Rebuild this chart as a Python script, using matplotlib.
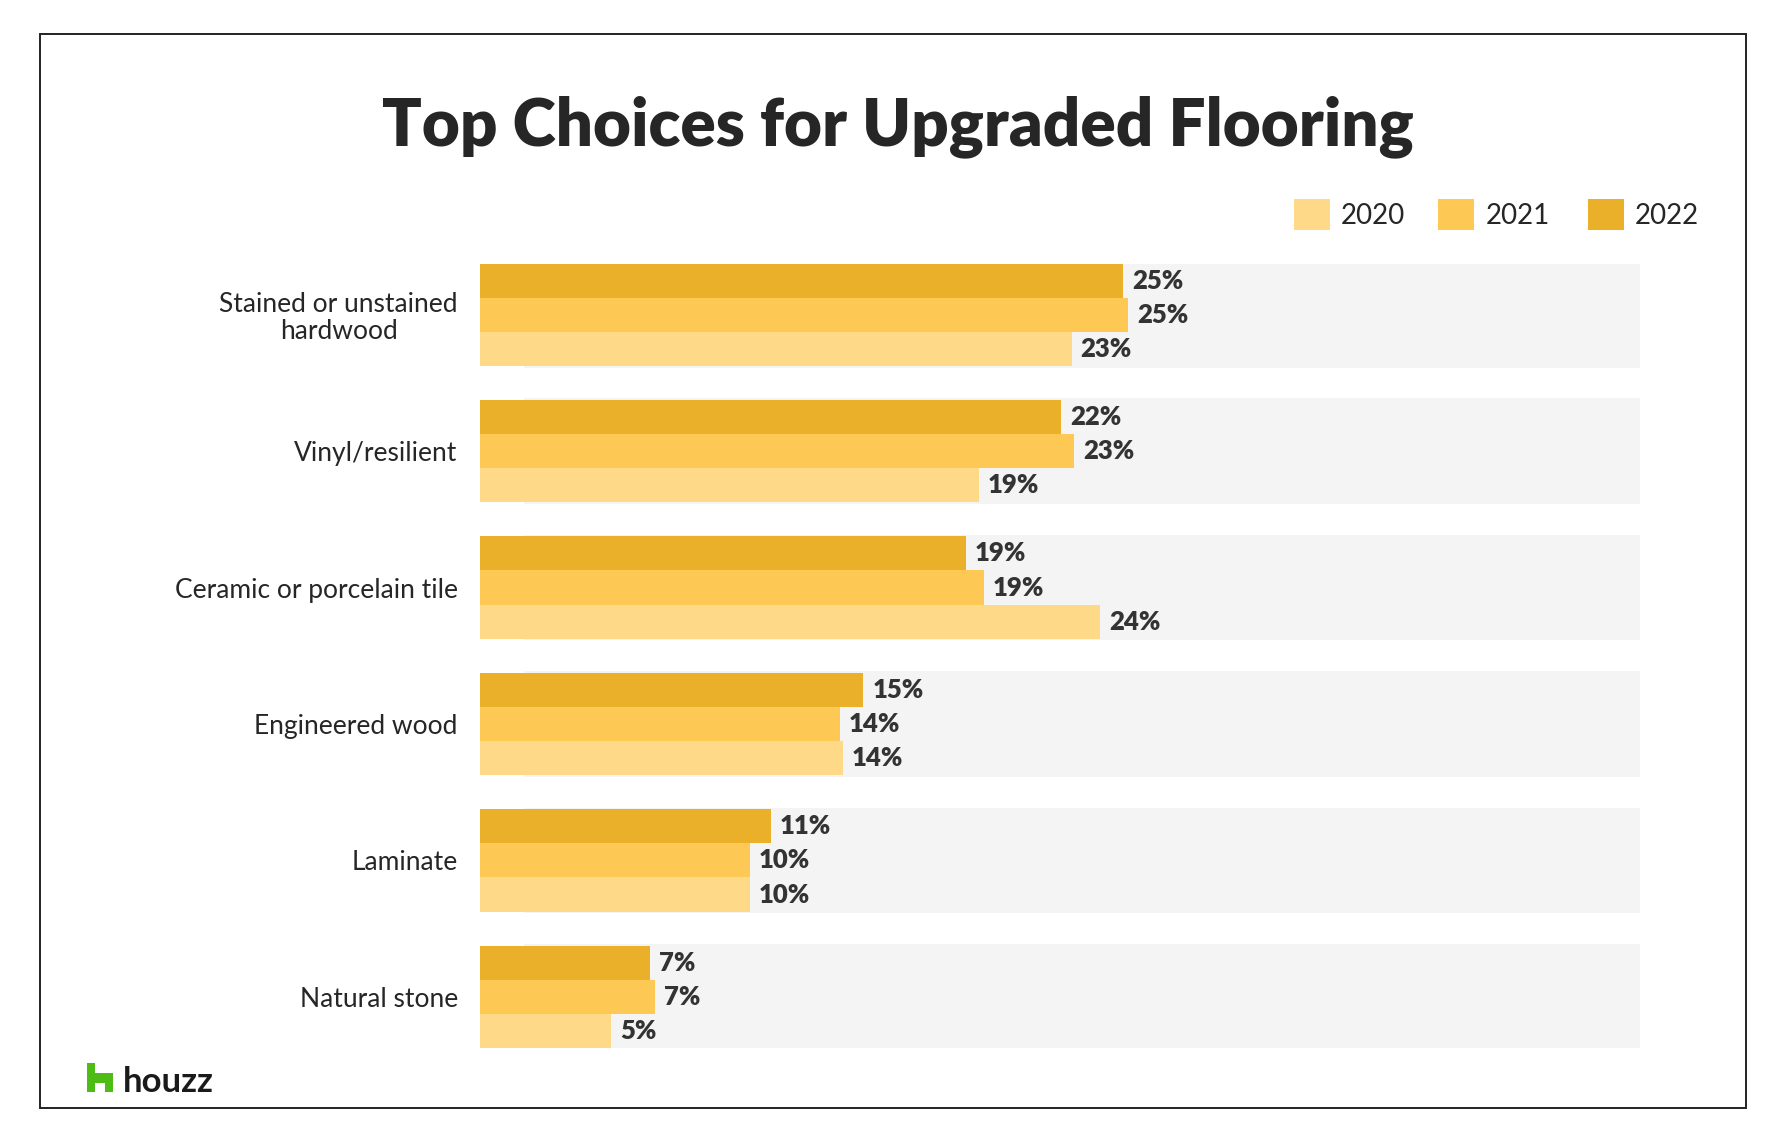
import matplotlib
matplotlib.use("Agg")
import matplotlib.pyplot as plt
from matplotlib.patches import Rectangle, Polygon
import numpy as np

# ---- data ----
categories = ["Stained or unstained\nhardwood", "Vinyl/resilient", "Ceramic or porcelain tile",
              "Engineered wood", "Laminate", "Natural stone"]
years = ["2020", "2021", "2022"]
pct_2022 = [25.0, 22.6, 18.9, 14.9, 11.3, 6.6]
pct_2021 = [25.2, 23.1, 19.6, 14.0, 10.5, 6.8]
pct_2020 = [23.0, 19.4, 24.1, 14.1, 10.5, 5.1]
lbl_2022 = [25, 22, 19, 15, 11, 7]
lbl_2021 = [25, 23, 19, 14, 10, 7]
lbl_2020 = [23, 19, 24, 14, 10, 5]

col_2020 = "#FEDA88"
col_2021 = "#FDC853"
col_2022 = "#EBB02A"
bg_col = "#F4F4F4"
txt = "#262626"

plt.rcParams['font.family'] = ['Lato', 'DejaVu Sans']

fig = plt.figure(figsize=(17.82, 11.46), dpi=100)
W, H = 1782, 1146

# outer frame
fig.patches.append(Rectangle((39.8 / W, 1 - 1108 / H), (1746 - 39.8) / W, (1108 - 34) / H,
                             transform=fig.transFigure, fill=False, edgecolor="#222222", lw=1.4))

ax = fig.add_axes([480 / W, 1 - 1048 / H, (1640 - 480) / W, (1048 - 263.5) / H])
xmax = 45.1
centers = np.arange(len(categories)) * 4.0

# background panels
ax.barh(centers, xmax - 1.7, left=1.7, height=3.1, color=bg_col, zorder=0)

series = [(pct_2022, lbl_2022, col_2022, -1), (pct_2021, lbl_2021, col_2021, 0), (pct_2020, lbl_2020, col_2020, 1)]
for vals, lbls, col, off in series:
    ys = centers + off
    ax.barh(ys, vals, height=1.0, color=col, zorder=2)
    for y, v, l in zip(ys, vals, lbls):
        ax.annotate(f"{l}%", (v, y), xytext=(6.5, 0), textcoords="offset points",
                    va="center", ha="left", fontsize=18.5, fontweight="heavy", color="#333333", zorder=3)

ax.set_xlim(0, xmax)
ax.set_ylim(centers[-1] + 1.5, centers[0] - 1.5)
ax.set_yticks(centers)
ax.set_yticklabels(categories, fontsize=19, color=txt, multialignment="center", linespacing=1.1)
ax.tick_params(axis="y", length=0, pad=16)
ax.set_xticks([])
for s in ax.spines.values():
    s.set_visible(False)

# title
fig.text(898 / W, 1 - 145 / H, "Top Choices for Upgraded Flooring", ha="center", va="baseline",
         fontsize=47.2, fontweight="heavy", color=txt)

# legend
leg = [(col_2020, "2020", 1294, 1341), (col_2021, "2021", 1438, 1485.5), (col_2022, "2022", 1588, 1634.5)]
for col, name, sx, tx in leg:
    fig.patches.append(Rectangle((sx / W, 1 - 230 / H), 36 / W, 31 / H, transform=fig.transFigure,
                                 color=col, lw=0))
    fig.text(tx / W, 1 - 216 / H, name, ha="left", va="center", fontsize=20, color=txt)

# houzz logo
lx0, lx1, ly0, ly1 = 87, 113, 1092, 1063
pts = [(0, 0), (0, 1), (0.32, 1), (0.32, 0.65), (1, 0.65), (1, 0), (0.68, 0), (0.68, 0.3), (0.32, 0.3), (0.32, 0)]
poly = [((lx0 + px * (lx1 - lx0)) / W, 1 - (ly0 - py * (ly0 - ly1)) / H) for px, py in pts]
fig.patches.append(Polygon(poly, closed=True, transform=fig.transFigure, color="#4DBC15", lw=0))
fig.text(123 / W, 1 - 1092 / H, "houzz", ha="left", va="baseline", fontsize=25, fontweight="bold", color="#1a1a1a")

fig.savefig("out.png", dpi=100, facecolor="white")
